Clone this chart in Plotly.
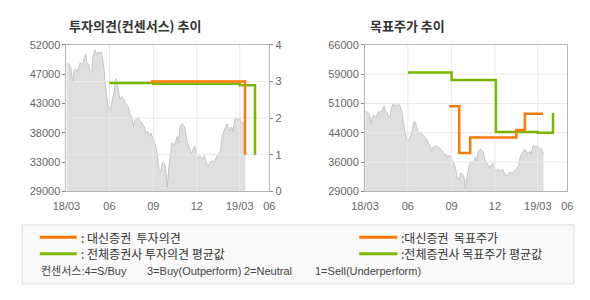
import plotly.graph_objects as go

W, H = 590, 300

# ---------------- data ----------------
price_dates = [
    "2018-03-04", "2018-03-09", "2018-03-12", "2018-03-16", "2018-03-19", "2018-03-22", "2018-03-26", "2018-03-29",
    "2018-04-01", "2018-04-05", "2018-04-08", "2018-04-12", "2018-04-15", "2018-04-18", "2018-04-22", "2018-04-25",
    "2018-04-28", "2018-05-02", "2018-05-05", "2018-05-08", "2018-05-12", "2018-05-15", "2018-05-19", "2018-05-21",
    "2018-05-22", "2018-05-24", "2018-05-26", "2018-05-28", "2018-06-01", "2018-06-04", "2018-06-07", "2018-06-11",
    "2018-06-14", "2018-06-17", "2018-06-21", "2018-06-24", "2018-06-27", "2018-07-01", "2018-07-04", "2018-07-07",
    "2018-07-11", "2018-07-14", "2018-07-18", "2018-07-21", "2018-07-24", "2018-07-28", "2018-07-31", "2018-08-03",
    "2018-08-07", "2018-08-10", "2018-08-13", "2018-08-17", "2018-08-20", "2018-08-24", "2018-08-27", "2018-08-30",
    "2018-09-02", "2018-09-06", "2018-09-09", "2018-09-13", "2018-09-17", "2018-09-20", "2018-09-24", "2018-09-27",
    "2018-09-30", "2018-10-04", "2018-10-07", "2018-10-10", "2018-10-14", "2018-10-17", "2018-10-21", "2018-10-24",
    "2018-10-27", "2018-10-31", "2018-11-03", "2018-11-06", "2018-11-10", "2018-11-13", "2018-11-17", "2018-11-20",
    "2018-11-23", "2018-11-27", "2018-11-30", "2018-12-03", "2018-12-07", "2018-12-10", "2018-12-14", "2018-12-17",
    "2018-12-20", "2018-12-24", "2018-12-27", "2018-12-30", "2019-01-03", "2019-01-06", "2019-01-10", "2019-01-13",
    "2019-01-16", "2019-01-20", "2019-01-23", "2019-01-26", "2019-01-30", "2019-02-02", "2019-02-05", "2019-02-09",
    "2019-02-12", "2019-02-15", "2019-02-19", "2019-02-22", "2019-02-25", "2019-03-01", "2019-03-04", "2019-03-07",
    "2019-03-11", "2019-03-13",
]
price_values = [
    49200, 48900, 48400, 46200, 47900, 48200, 47700, 48400,
    49200, 48900, 49400, 50600, 49200, 48900, 47700, 47700,
    50400, 51200, 50400, 50900, 50700, 50900, 49400, 48200,
    46700, 45200, 44200, 42900, 41400, 42100, 43200, 44700,
    46700, 46400, 44200, 43400, 43900, 43400, 43200, 42600,
    42100, 41100, 40600, 39100, 40100, 40400, 40600, 40100,
    39900, 39400, 39100, 38100, 38400, 37600, 38100, 37600,
    37100, 36100, 35000, 32300, 32100, 33600, 33300, 32600,
    29600, 33100, 34600, 36600, 36100, 36600, 37600, 36600,
    39100, 39600, 39400, 39100, 37100, 36400, 35300, 34800,
    35600, 36100, 34800, 34100, 34600, 34300, 34100, 34600,
    33800, 32800, 33300, 33600, 33800, 33600, 34100, 34600,
    34800, 35600, 37600, 38400, 39100, 39600, 38900, 38600,
    39100, 38400, 40400, 40600, 40100, 40600, 39600, 39900,
    39100, 38600,
]

# 투자의견 (consensus rating)
daishin_rating_dates = ["2018-08-27", "2019-03-12", "2019-03-12"]
daishin_rating_values = [3.0, 3.0, 1.0]
all_rating_dates = ["2018-06-01", "2018-09-01", "2019-03-01", "2019-04-02", "2019-04-02"]
all_rating_values = [2.96, 2.94, 2.9, 2.9, 1.0]

# 목표주가 (target price)
daishin_target_dates = ["2018-08-27", "2018-09-17", "2018-10-10", "2019-01-15", "2019-02-02", "2019-03-12"]
daishin_target_values = [50500, 38700, 42600, 44500, 48600, 48600]
all_target_dates = ["2018-06-01", "2018-09-01", "2018-12-03", "2019-03-01", "2019-04-02", "2019-04-02"]
all_target_values = [59000, 57100, 44000, 43800, 43800, 48800]

# axis ticks
x_tickvals = ["2018-03-03", "2018-06-01", "2018-09-01", "2018-12-01", "2019-03-01", "2019-05-02"]
x_ticktext = ["18/03", "06", "09", "12", "19/03", "06"]
x_grid_dates = ["2018-06-01", "2018-09-01", "2018-12-01", "2019-03-01"]
x_range = ["2018-03-03", "2019-05-02"]

left_price_range = [29000, 52000]
left_price_tickvals = [29000, 33600, 38200, 42800, 47400, 52000]
left_price_ticktext = ["29000", "33000", "38000", "43000", "47000", "52000"]
rating_tickvals = [0, 1, 2, 3, 4]
rating_ticktext = ["0", "1", "2", "3", "4"]

right_price_range = [29000, 66000]
right_price_tickvals = [29000, 36400, 43800, 51200, 58600, 66000]
right_price_ticktext = ["29000", "36000", "44000", "51000", "59000", "66000"]

# ---------------- style ----------------
ORANGE = "#ff7800"
GREEN = "#7ab800"
AREA_FILL = "#dfdfdf"
AREA_LINE = "#c4c4c4"
GRID = "#e9e9e9"
AXIS = "#b4b4b4"
LATIN = "Liberation Sans, Arial, sans-serif"
TICKFONT = dict(family=LATIN, size=11, color="#666666")
KFONT = "Noto Sans CJK KR, sans-serif"
MIXFONT = "Liberation Sans, Noto Sans CJK KR, sans-serif"


def px(x):
    return x / W


def py(y):
    return 1 - y / H


fig = go.Figure()

# ---- left subplot: price area (y) ----
fig.add_trace(go.Scatter(x=price_dates, y=price_values, xaxis="x", yaxis="y",
                         mode="lines", line=dict(color=AREA_LINE, width=1),
                         fill="tozeroy", fillcolor=AREA_FILL, hoverinfo="skip"))

# left gridlines (on y2 so they sit above the area)
gx, gy = [], []
for v in [1, 2, 3]:
    gx += [x_range[0], x_range[1], None]
    gy += [v, v, None]
for d in x_grid_dates:
    gx += [d, d, None]
    gy += [0, 4, None]
fig.add_trace(go.Scatter(x=gx, y=gy, xaxis="x", yaxis="y2", mode="lines",
                         line=dict(color=GRID, width=1), hoverinfo="skip"))

fig.add_trace(go.Scatter(x=all_rating_dates, y=all_rating_values, xaxis="x", yaxis="y2",
                         mode="lines", line=dict(color=GREEN, width=2.5, shape="hv")))
fig.add_trace(go.Scatter(x=daishin_rating_dates, y=daishin_rating_values, xaxis="x", yaxis="y2",
                         mode="lines", line=dict(color=ORANGE, width=2.5, shape="hv")))

# ---- right subplot ----
fig.add_trace(go.Scatter(x=price_dates, y=price_values, xaxis="x2", yaxis="y3",
                         mode="lines", line=dict(color=AREA_LINE, width=1),
                         fill="tozeroy", fillcolor=AREA_FILL, hoverinfo="skip"))
gx, gy = [], []
for v in right_price_tickvals[1:-1]:
    gx += [x_range[0], x_range[1], None]
    gy += [v, v, None]
for d in x_grid_dates:
    gx += [d, d, None]
    gy += [right_price_range[0], right_price_range[1], None]
fig.add_trace(go.Scatter(x=gx, y=gy, xaxis="x2", yaxis="y3", mode="lines",
                         line=dict(color=GRID, width=1), hoverinfo="skip"))
fig.add_trace(go.Scatter(x=all_target_dates, y=all_target_values, xaxis="x2", yaxis="y3",
                         mode="lines", line=dict(color=GREEN, width=2.5, shape="hv")))
fig.add_trace(go.Scatter(x=daishin_target_dates, y=daishin_target_values, xaxis="x2", yaxis="y3",
                         mode="lines", line=dict(color=ORANGE, width=2.5, shape="hv")))

ydom = [py(193), py(40.5)]
common_x = dict(type="date", range=x_range, tickvals=x_tickvals, ticktext=x_ticktext,
                showgrid=False, zeroline=False, showline=True, mirror=True,
                linecolor=AXIS, linewidth=1, ticks="", tickfont=TICKFONT, fixedrange=True,
                ticklabelstandoff=5)
common_y = dict(showgrid=False, zeroline=False, showline=True, linecolor=AXIS, linewidth=1,
                ticks="outside", ticklen=3, tickcolor="#888888", tickfont=TICKFONT, fixedrange=True)

fig.update_layout(
    width=W, height=H,
    margin=dict(l=0, r=0, t=0, b=0),
    paper_bgcolor="white", plot_bgcolor="white",
    showlegend=False,
    xaxis=dict(domain=[px(54.3), px(264.3)], anchor="y", **common_x),
    yaxis=dict(domain=ydom, anchor="x", range=left_price_range,
               tickvals=left_price_tickvals, ticktext=left_price_ticktext, mirror=False, **common_y),
    yaxis2=dict(overlaying="y", side="right", anchor="x", range=[0, 4],
                tickvals=rating_tickvals, ticktext=rating_ticktext, **common_y),
    xaxis2=dict(domain=[px(363.3), px(572.7)], anchor="y3", **common_x),
    yaxis3=dict(domain=ydom, anchor="x2", range=right_price_range,
                tickvals=right_price_tickvals, ticktext=right_price_ticktext, mirror=True, **common_y),
)

# ---- titles ----
fig.add_annotation(x=px(55), y=py(20), xref="paper", yref="paper", xanchor="left", yanchor="middle",
                   text="<b>투자의견(컨센서스) 추이</b>", showarrow=False,
                   font=dict(family=KFONT, size=13, color="#333333"))
fig.add_annotation(x=px(366.5), y=py(20), xref="paper", yref="paper", xanchor="left", yanchor="middle",
                   text="<b>목표주가 추이</b>", showarrow=False,
                   font=dict(family=KFONT, size=13, color="#333333"))

# ---- legend box ----
fig.add_shape(type="rect", xref="paper", yref="paper",
              x0=px(8.5), x1=px(579.5), y0=py(289.5), y1=py(228),
              line=dict(color="#dcdcdc", width=1), fillcolor="#f9f9f9", layer="below")

legend_items = [
    (26.7, 65, 241, ORANGE, 67, ": 대신증권  투자의견"),
    (26.7, 65, 258, GREEN, 67, ": 전체증권사 투자의견 평균값"),
    (357.3, 396.7, 241, ORANGE, 398, ":대신증권  목표주가"),
    (357.3, 396.7, 258, GREEN, 398, ":전체증권사 목표주가 평균값"),
]
for x0, x1, yy, col, tx, label in legend_items:
    fig.add_shape(type="line", xref="paper", yref="paper", x0=px(x0), x1=px(x1), y0=py(yy), y1=py(yy),
                  line=dict(color=col, width=3))
    fig.add_annotation(x=px(tx), y=py(yy), xref="paper", yref="paper", xanchor="left", yanchor="middle",
                       text=label, showarrow=False, font=dict(family=KFONT, size=12, color="#333333"))

consensus_parts = [
    (26, "컨센서스:4=S/Buy"),
    (136, "3=Buy(Outperform)"),
    (236, "2=Neutral"),
    (309, "1=Sell(Underperform)"),
]
for tx, label in consensus_parts:
    fig.add_annotation(x=px(tx), y=py(276.5), xref="paper", yref="paper", xanchor="left", yanchor="middle",
                       text=label, showarrow=False, font=dict(family=MIXFONT, size=11, color="#444444"))

fig.write_html("out.html")
